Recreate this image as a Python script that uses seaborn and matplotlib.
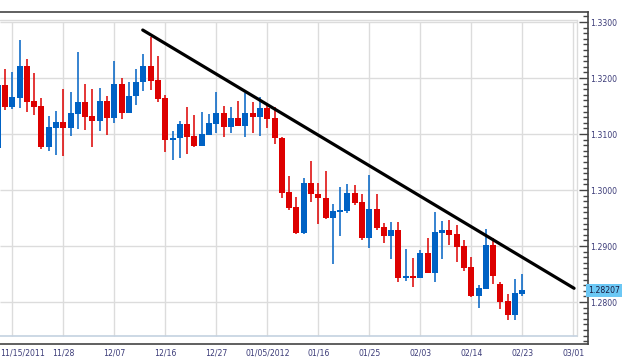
import numpy as np
import pandas as pd
import matplotlib
matplotlib.use("Agg")
import matplotlib.pyplot as plt
import matplotlib.transforms as mtrans
from matplotlib.ticker import MultipleLocator, FixedLocator, FormatStrFormatter
import seaborn as sns

# daily OHLC (one candle per trading day)
opens = [1.3075, 1.3188, 1.3149, 1.3165, 1.3221, 1.3159, 1.3150, 1.3077, 1.3111, 1.3121,
         1.3111, 1.3136, 1.3157, 1.3132, 1.3124, 1.3159, 1.3129, 1.3189, 1.3138, 1.3167,
         1.3192, 1.3221, 1.3196, 1.3164, 1.3090, 1.3092, 1.3118, 1.3096, 1.3079, 1.3099,
         1.3118, 1.3138, 1.3113, 1.3129, 1.3115, 1.3138, 1.3131, 1.3146, 1.3129, 1.3093,
         1.2996, 1.2970, 1.2924, 1.3013, 1.2993, 1.2986, 1.2950, 1.2961, 1.2962, 1.2995,
         1.2979, 1.2915, 1.2966, 1.2934, 1.2917, 1.2929, 1.2843, 1.2846, 1.2843, 1.2888,
         1.2852, 1.2924, 1.2929, 1.2921, 1.2900, 1.2863, 1.2810, 1.2824, 1.2902, 1.2832,
         1.2802, 1.2777, 1.2815]
highs = [1.3189, 1.3216, 1.3211, 1.3268, 1.3234, 1.3209, 1.3164, 1.3132, 1.3141, 1.3180,
         1.3175, 1.3246, 1.3189, 1.3180, 1.3182, 1.3168, 1.3230, 1.3200, 1.3193, 1.3216,
         1.3243, 1.3274, 1.3239, 1.3170, 1.3105, 1.3123, 1.3148, 1.3134, 1.3139, 1.3136,
         1.3175, 1.3150, 1.3148, 1.3159, 1.3173, 1.3157, 1.3166, 1.3155, 1.3148, 1.3094,
         1.3025, 1.2988, 1.3021, 1.3052, 1.3013, 1.3034, 1.2975, 1.3005, 1.3011, 1.3009,
         1.2993, 1.3027, 1.2993, 1.2941, 1.2943, 1.2943, 1.2895, 1.2879, 1.2893, 1.2914,
         1.2961, 1.2945, 1.2946, 1.2938, 1.2911, 1.2881, 1.2830, 1.2930, 1.2914, 1.2836,
         1.2814, 1.2841, 1.2850]
lows = [1.3073, 1.3143, 1.3145, 1.3147, 1.3140, 1.3134, 1.3073, 1.3070, 1.3063, 1.3061,
        1.3097, 1.3109, 1.3107, 1.3076, 1.3106, 1.3099, 1.3120, 1.3127, 1.3137, 1.3152,
        1.3177, 1.3179, 1.3158, 1.3068, 1.3054, 1.3058, 1.3065, 1.3076, 1.3078, 1.3098,
        1.3101, 1.3095, 1.3102, 1.3114, 1.3095, 1.3102, 1.3097, 1.3110, 1.3083, 1.2985,
        1.2965, 1.2922, 1.2922, 1.2979, 1.2940, 1.2949, 1.2868, 1.2918, 1.2959, 1.2974,
        1.2911, 1.2897, 1.2929, 1.2906, 1.2876, 1.2835, 1.2838, 1.2826, 1.2842, 1.2851,
        1.2836, 1.2876, 1.2902, 1.2872, 1.2856, 1.2809, 1.2790, 1.2823, 1.2833, 1.2788,
        1.2767, 1.2767, 1.2811]
closes = [1.3188, 1.3149, 1.3166, 1.3221, 1.3158, 1.3149, 1.3077, 1.3112, 1.3121, 1.3111,
          1.3138, 1.3157, 1.3130, 1.3123, 1.3159, 1.3129, 1.3189, 1.3138, 1.3168, 1.3193,
          1.3221, 1.3195, 1.3163, 1.3090, 1.3093, 1.3118, 1.3095, 1.3079, 1.3100, 1.3120,
          1.3138, 1.3113, 1.3129, 1.3115, 1.3138, 1.3131, 1.3146, 1.3127, 1.3092, 1.2995,
          1.2968, 1.2924, 1.3013, 1.2992, 1.2985, 1.2950, 1.2962, 1.2964, 1.2995, 1.2977,
          1.2915, 1.2966, 1.2933, 1.2917, 1.2929, 1.2843, 1.2846, 1.2843, 1.2888, 1.2852,
          1.2925, 1.2929, 1.2920, 1.2899, 1.2861, 1.2810, 1.2825, 1.2902, 1.2847, 1.2800,
          1.2777, 1.2816, 1.2821]

date_labels = ["11/15/2011", "11/28", "12/07", "12/16", "12/27", "01/05/2012",
               "01/16", "01/25", "02/03", "02/14", "02/23", "03/01"]
label_days = list(range(2, 80, 7))   # candle index of each date label

# hand-drawn resistance line (start / end)
trend_x = [19.9, 79.1]
trend_y = [1.32857, 1.28245]

last_price = 1.28207

df = pd.DataFrame({"open": opens, "high": highs, "low": lows, "close": closes})
df["day"] = np.arange(len(df))
df["up"] = df["close"] >= df["open"]

RED = "#dd0000"
BLUE = "#0062c4"
TXT = "#3b3b78"

sns.set_theme(style="white")
plt.rcParams["font.family"] = ["DejaVu Sans"]

fig = plt.figure(figsize=(6.24, 3.61), dpi=100)
ax = fig.add_axes([0, 1 - 344 / 361, 587.7 / 624, 332 / 361])

ax.set_xlim(0.31, 80.97)
ax.set_ylim(1.2725, 1.33179)

# grid inside the plot area box
xt = ax.get_xaxis_transform()
yt = ax.get_yaxis_transform()
ax.vlines(label_days, 0.024, 0.97, transform=xt, color="#dcdcdc", lw=1.0, zorder=0)
ax.hlines(np.arange(1.28, 1.3301, 0.01), 0, 0.982, transform=yt, color="#dcdcdc", lw=1.0, zorder=0)
ax.plot([0, 0.982], [0.976, 0.976], transform=ax.transAxes, color="#dcdcdc", lw=1.0, zorder=0)
ax.plot([0.982, 0.982], [0.024, 0.976], transform=ax.transAxes, color="#dcdcdc", lw=1.0, zorder=0)
ax.plot([0, 0.982], [0.024, 0.024], transform=ax.transAxes, color="#c4d2e0", lw=1.2, zorder=0)

# candles
for up, grp in df.groupby("up"):
    col = BLUE if up else RED
    ax.vlines(grp["day"], grp["low"], grp["high"], color=col, lw=1.1, zorder=2)
    body_lo = np.minimum(grp["open"], grp["close"])
    body_h = np.maximum(np.abs(grp["close"] - grp["open"]), 0.00008)
    ax.bar(grp["day"], body_h, bottom=body_lo, width=0.82, color=col, lw=0, zorder=3)

sns.lineplot(x=trend_x, y=trend_y, color="black", lw=2.3, ax=ax, zorder=4)

# axes, ticks
for s in ["top", "right", "bottom"]:
    ax.spines[s].set_color("#444444")
    ax.spines[s].set_linewidth(1.2)
ax.spines["left"].set_visible(False)

ax.yaxis.tick_right()
ax.yaxis.set_major_locator(FixedLocator(np.arange(1.28, 1.3301, 0.01)))
ax.yaxis.set_minor_locator(MultipleLocator(0.001))
ax.yaxis.set_major_formatter(FormatStrFormatter("%.4f"))
ax.tick_params(axis="y", which="major", direction="in", length=6.5, width=1, color="#444444",
               labelsize=5.6, labelcolor=TXT, pad=1.5, right=True, left=False)
ax.tick_params(axis="y", which="minor", direction="in", length=3.5, width=1, color="#444444",
               right=True, left=False)

ax.xaxis.set_major_locator(FixedLocator(label_days))
ax.xaxis.set_minor_locator(MultipleLocator(7 / 8))
ax.set_xticklabels(date_labels)
ax.tick_params(axis="x", which="major", direction="in", length=5.5, width=1, color="#444444",
               labelsize=5.6, labelcolor=TXT, pad=3)
ax.tick_params(axis="x", which="minor", direction="in", length=2.2, width=1, color="#444444")

first = ax.get_xticklabels()[0]
first.set_transform(first.get_transform() + mtrans.ScaledTranslation(10 / 100, 0, fig.dpi_scale_trans))

# last price tag on the price axis
tag_tr = mtrans.blended_transform_factory(ax.transAxes, ax.transData)
ax.text(1.0, last_price, f"{last_price:.5f}", transform=tag_tr, ha="left", va="center",
        fontsize=5.6, color="#1a1a40",
        bbox=dict(boxstyle="square,pad=0.25", fc="#6cc8f5", ec="none"), zorder=5)

ax.set_xlabel("")
ax.set_ylabel("")
fig.savefig("out.png", dpi=100, facecolor="white")
